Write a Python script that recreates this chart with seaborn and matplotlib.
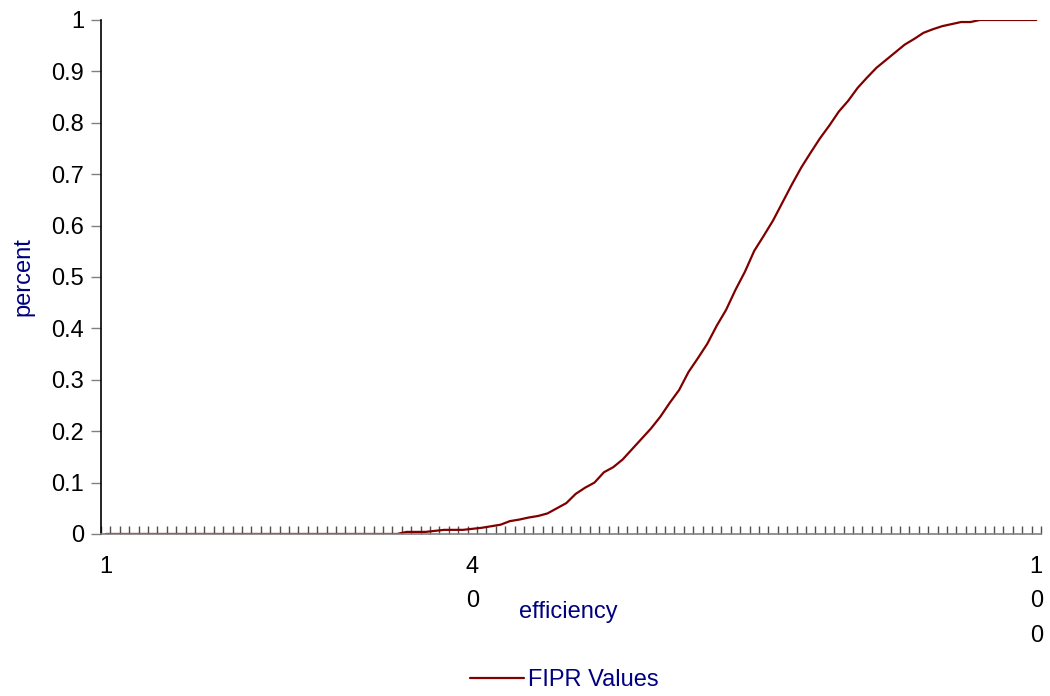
import numpy as np
import pandas as pd
import seaborn as sns
import matplotlib.pyplot as plt
from matplotlib.ticker import FixedLocator

# efficiency categories 1..100 and cumulative FIPR share
efficiency = list(range(1, 101))
fipr_values = (
    [0.0] * 32
    + [0.004, 0.004, 0.004, 0.006, 0.008, 0.008, 0.008, 0.010,
       0.012, 0.015, 0.018, 0.025, 0.028, 0.032, 0.035, 0.040,
       0.050, 0.060, 0.078, 0.090, 0.100, 0.120, 0.130, 0.145,
       0.165, 0.185, 0.205, 0.228, 0.255, 0.280, 0.315, 0.342,
       0.370, 0.405, 0.436, 0.475, 0.510, 0.551, 0.580, 0.610,
       0.645, 0.680, 0.713, 0.742, 0.770, 0.795, 0.822, 0.843,
       0.868, 0.888, 0.907, 0.922, 0.937, 0.952, 0.963, 0.975,
       0.982, 0.988, 0.992, 0.996, 0.996, 1.0]
    + [1.0] * 6
)
y_ticks = [0, 0.1, 0.2, 0.3, 0.4, 0.5, 0.6, 0.7, 0.8, 0.9, 1]
y_labels = ["0", "0.1", "0.2", "0.3", "0.4", "0.5", "0.6", "0.7", "0.8", "0.9", "1"]
x_labels = {1: "1", 40: "4\n0", 100: "1\n0\n0"}

df = pd.DataFrame({"efficiency": efficiency, "FIPR Values": fipr_values})

sns.set_style("white")
plt.rcParams["font.family"] = ["Liberation Sans", "DejaVu Sans"]

navy = "#000080"
fs = 17
fig = plt.figure(figsize=(10.5, 6.96), dpi=100)
ax = fig.add_axes([0.0962, 0.2328, 0.8952, 0.7385])

sns.lineplot(data=df, x="efficiency", y="FIPR Values", color="#800000",
             linewidth=1.6, ax=ax, label="FIPR Values", legend=False)

ax.set_xlim(0.5, 100.5)
ax.set_ylim(0, 1)
ax.yaxis.set_major_locator(FixedLocator(y_ticks))
ax.set_yticklabels(y_labels)
ax.tick_params(axis="y", direction="out", length=7, width=1, color="#808080",
               labelsize=fs, labelcolor="black", pad=5, left=True)

# category boundaries as tiny inward ticks, labels at a few categories
ax.xaxis.set_minor_locator(FixedLocator(np.arange(0.5, 101, 1)))
ax.xaxis.set_major_locator(FixedLocator(list(x_labels.keys())))
ax.set_xticklabels(list(x_labels.values()), linespacing=1.72, va="top")
ax.tick_params(axis="x", which="minor", direction="in", length=6, width=1,
               color="#505050", bottom=True)
ax.tick_params(axis="x", which="major", length=0, labelsize=fs, pad=16,
               labelcolor="black")

for s in ["top", "right"]:
    ax.spines[s].set_visible(False)
ax.spines["left"].set_color("black")
ax.spines["bottom"].set_color("#808080")
ax.spines["left"].set_linewidth(1.2)
ax.spines["bottom"].set_linewidth(1.2)

ax.set_ylabel("percent", color=navy, fontsize=fs, labelpad=12)
ax.set_xlabel("")
fig.text(568 / 1050, 1 - 612 / 696, "efficiency", color=navy, fontsize=fs,
         ha="center", va="center")

leg = fig.legend(loc="center", bbox_to_anchor=(564 / 1050, 1 - 680 / 696),
                 frameon=False, fontsize=fs, handlelength=2.3,
                 handletextpad=0.15)
for t in leg.get_texts():
    t.set_color(navy)

fig.savefig("out.png", dpi=100)
